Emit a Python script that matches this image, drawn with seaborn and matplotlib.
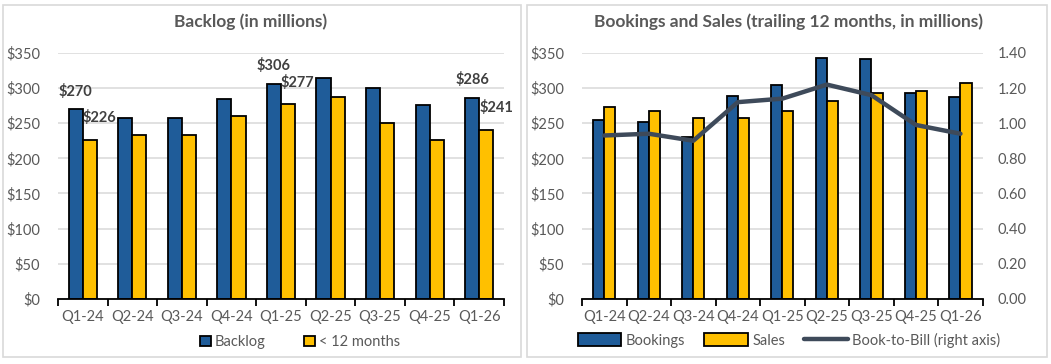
import numpy as np
import pandas as pd
import matplotlib
matplotlib.use("Agg")
import matplotlib.pyplot as plt
import seaborn as sns
from matplotlib.patches import Rectangle
from matplotlib.ticker import FuncFormatter, MultipleLocator, FixedLocator

quarters = ["Q1-24", "Q2-24", "Q3-24", "Q4-24", "Q1-25", "Q2-25", "Q3-25", "Q4-25", "Q1-26"]
backlog = [270, 258, 257, 285, 306, 314, 300, 276, 286]
under_12 = [226, 233, 233, 260, 277, 287, 250, 226, 241]
bookings = [254, 251, 231, 289, 304, 343, 341, 293, 288]
sales = [273, 268, 257, 258, 268, 282, 293, 296, 307]
book_to_bill = [0.93, 0.94, 0.90, 1.12, 1.14, 1.22, 1.16, 0.99, 0.94]
labeled = [0, 4, 8]

BLUE = "#1F5C99"
YELLOW = "#FFC000"
LINE = "#3E4A5A"
TXT = "#595959"
GRID = "#D9D9D9"

sns.set_style("white")
plt.rcParams["font.family"] = ["Lato", "DejaVu Sans"]
plt.rcParams["font.size"] = 10

fig = plt.figure(figsize=(10.51, 3.64), dpi=100)

# panel borders
for x0, w in [(3, 518), (527, 520)]:
    fig.add_artist(Rectangle((x0 / 1051, 7 / 364), w / 1051, 352 / 364, transform=fig.transFigure,
                             fill=False, edgecolor=GRID, linewidth=1.2))

ax1 = fig.add_axes([58 / 1051, 1 - 298.7 / 364, 446 / 1051, 245.7 / 364])
ax2 = fig.add_axes([582 / 1051, 1 - 298.7 / 364, 400.7 / 1051, 245.7 / 364])

df1 = pd.DataFrame({"Quarter": quarters * 2,
                    "Series": ["Backlog"] * 9 + ["< 12 months"] * 9,
                    "Value": backlog + under_12})
df2 = pd.DataFrame({"Quarter": quarters * 2,
                    "Series": ["Bookings"] * 9 + ["Sales"] * 9,
                    "Value": bookings + sales})

sns.barplot(data=df1, x="Quarter", y="Value", hue="Series", palette=[BLUE, YELLOW],
            width=0.57, gap=0, saturation=1, edgecolor="black", linewidth=1.3, ax=ax1)
sns.barplot(data=df2, x="Quarter", y="Value", hue="Series", palette=[BLUE, YELLOW],
            width=0.5, gap=0, saturation=1, edgecolor="black", linewidth=1.3, ax=ax2)

ax2r = ax2.twinx()
sns.pointplot(x=quarters, y=book_to_bill, color=LINE, markers="", errorbar=None,
              linewidth=3.2, ax=ax2r)
ax2r.lines[0].set_solid_joinstyle("round")
ax2r.lines[0].set_solid_capstyle("round")

money = FuncFormatter(lambda v, p: f"${v:.0f}")
for ax in (ax1, ax2):
    ax.set_ylim(0, 350)
    ax.yaxis.set_major_locator(MultipleLocator(50))
    ax.yaxis.set_major_formatter(money)
    ax.set_xlim(-0.5, 8.5)
    ax.set_axisbelow(True)
    ax.grid(axis="y", color=GRID, linewidth=1.1)
    ax.set_xlabel("")
    ax.set_ylabel("")
    for s in ["left", "right", "top"]:
        ax.spines[s].set_visible(False)
    ax.spines["bottom"].set_color("black")
    ax.spines["bottom"].set_linewidth(1.3)
    ax.xaxis.set_major_locator(FixedLocator(np.arange(-0.5, 9.0, 1.0)))
    ax.xaxis.set_major_formatter(plt.NullFormatter())
    ax.set_xticks(np.arange(9), quarters, minor=True)
    ax.tick_params(axis="x", which="major", direction="out", length=5, width=1.3, color="black",
                   bottom=True)
    ax.tick_params(axis="x", which="minor", length=0, pad=8, labelcolor=TXT, labelsize=10.5)
    ax.tick_params(axis="y", length=0, labelcolor=TXT, labelsize=10.5, pad=13)

ax2r.set_ylim(0, 1.4)
ax2r.yaxis.set_major_locator(MultipleLocator(0.2))
ax2r.yaxis.set_major_formatter(FuncFormatter(lambda v, p: f"{v:.2f}"))
ax2r.tick_params(axis="y", length=0, labelcolor=TXT, labelsize=10.5, pad=11)
ax2r.set_xlim(-0.5, 8.5)
ax2r.set_ylabel("")
for s in ax2r.spines.values():
    s.set_visible(False)

# data labels on left chart
blue_bars, yellow_bars = ax1.containers[0], ax1.containers[1]
for i in labeled:
    b = blue_bars[i]
    ax1.annotate(f"${backlog[i]}", (b.get_x() + b.get_width() / 2, b.get_height()),
                 xytext=(0, 13), textcoords="offset points", ha="center", va="center",
                 fontsize=10.5, fontweight="bold", color="#404040")
    y = yellow_bars[i]
    ax1.annotate(f"${under_12[i]}", (y.get_x() + y.get_width() / 2, y.get_height()),
                 xytext=(7, 16), textcoords="offset points", ha="center", va="center",
                 fontsize=10.5, fontweight="bold", color="#404040")

# titles
fig.text(251 / 1051, 1 - 22 / 364, "Backlog (in millions)", ha="center", va="center",
         fontsize=12.5, fontweight="bold", color=TXT)
fig.text(788 / 1051, 1 - 22 / 364, "Bookings and Sales (trailing 12 months, in millions)",
         ha="center", va="center", fontsize=12.5, fontweight="bold", color=TXT)

# legends
h1, l1 = ax1.get_legend_handles_labels()
ax1.get_legend().remove()
fig.legend(h1, l1, loc="center", bbox_to_anchor=(300 / 1051, 1 - 342 / 364), ncol=2,
           frameon=False, handlelength=0.75, handleheight=0.75, handletextpad=0.3,
           columnspacing=2.6, fontsize=10.5, labelcolor=TXT)

h2, l2 = ax2.get_legend_handles_labels()
ax2.get_legend().remove()
line_h = ax2r.lines[0]
fig.legend(h2 + [line_h], l2 + ["Book-to-Bill (right axis)"], loc="center",
           bbox_to_anchor=(789 / 1051, 1 - 340 / 364), ncol=3, frameon=False,
           handlelength=3.0, handleheight=0.9, handletextpad=0.3, columnspacing=1.3,
           fontsize=10.5, labelcolor=TXT)

fig.savefig("out.png", dpi=100)
